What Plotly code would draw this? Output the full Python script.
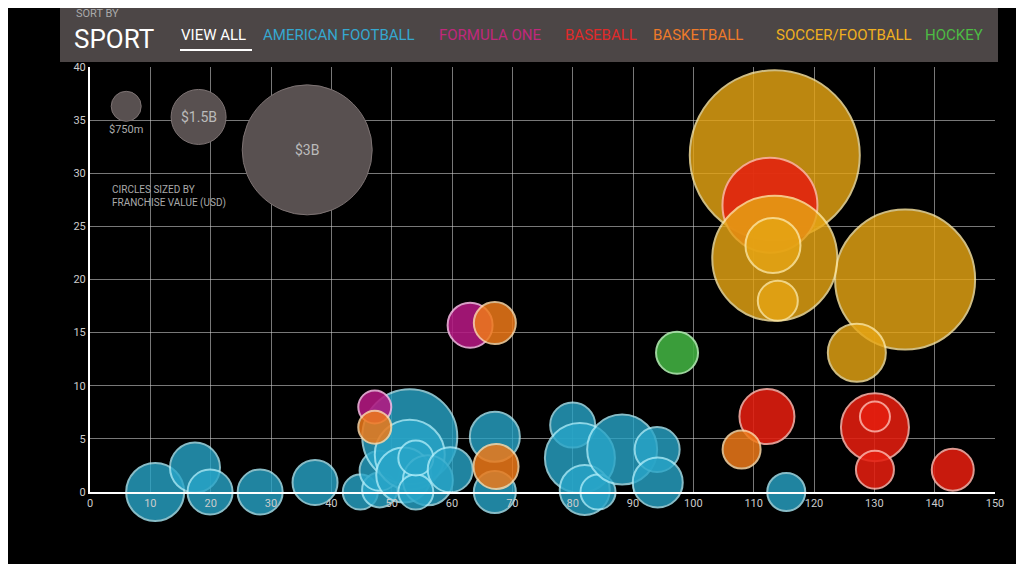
import plotly.graph_objects as go

# data: x, y, marker diameter (px, reflects franchise value)
football_x = [10.8,17.4,19.9,28.2,37.3,44.8,48,48,53,53,52,56,54,54,59.7,67.1,67.1,80,81.2,82,84.2,88.2,94,94.1,115.4]
football_y = [0,2.3,0,0,0.9,0,0.2,2,5.2,3.5,1.6,1.1,0,3.2,2.1,5.2,0,6.3,3.2,0.2,0,4,4,0.9,0]
football_s = [58,50,45,45,45,35,35,40,95,70,55,50,35,35,45,50,42,45,70,50,35,70,45,50,38]

f1_x = [63,47.2]; f1_y = [15.7,8]; f1_s = [45,33]
baseball_x = [112.7,112.2,130.1,130.1,130.1,143,50]
baseball_y = [27,7.1,6.1,7.1,2.1,2.1,2.1]
baseball_s = [95,55,68,30,38,42,25]
basket_x = [67.1,47.2,108,67.3]; basket_y = [15.9,6.1,4,2.4]; basket_s = [42,33,38,45]
soccer_x = [113.5,135.1,127.1,113.5,113.2,114]
soccer_y = [31.7,20,13.1,22,23.2,18]
soccer_s = [170,140,58,125,55,40]
hockey_x = [97.3]; hockey_y = [13.1]; hockey_s = [42]

legend_x = [6,18,36]; legend_y = [36.3,35.3,32.2]; legend_s = [30,55,130]
legend_lbl = ["$750m","$1.5B","$3B"]

FB = ("rgb(40,165,200)", "rgb(170,235,248)")
F1 = ("rgb(180,25,130)", "rgb(245,180,225)")
BK = ("rgb(238,122,25)", "rgb(252,215,165)")
BB = ("rgb(228,30,15)", "rgb(252,175,165)")
SC = ("rgb(230,165,20)", "rgb(252,230,160)")
HK = ("rgb(65,175,65)", "rgb(175,235,175)")

layers = [
    (soccer_x[:3], soccer_y[:3], soccer_s[:3], SC, 0.82),
    (baseball_x[:1], baseball_y[:1], baseball_s[:1], BB, 0.85),
    (soccer_x[3:], soccer_y[3:], soccer_s[3:], SC, 0.82),
    (baseball_x[1:], baseball_y[1:], baseball_s[1:], BB, 0.88),
    (football_x, football_y, football_s, FB, 0.8),
    (f1_x, f1_y, f1_s, F1, 0.88),
    (basket_x, basket_y, basket_s, BK, 0.85),
    (hockey_x, hockey_y, hockey_s, HK, 0.9),
]

fig = go.Figure()
fig.add_trace(go.Scatter(x=legend_x, y=legend_y, mode="markers", cliponaxis=False,
    marker=dict(size=legend_s, color="rgb(88,80,80)", opacity=1, line=dict(color="rgb(125,115,115)", width=1)),
    hoverinfo="skip", showlegend=False))
for xs, ys, ss, (c, lc), op in layers:
    fig.add_trace(go.Scatter(x=xs, y=ys, mode="markers", cliponaxis=False,
        marker=dict(size=ss, color=c, opacity=op, line=dict(color=lc, width=2)), showlegend=False))

OFF = 8  # page body margin
W, H = 1024, 564
L, R, T, B = 90 - OFF, 1024 - 995 + OFF, 67 - OFF, 564 - 492 + OFF
def px(xp): return (xp - OFF - L) / (W - L - R)
def py(yp): return (H - B - (yp - OFF)) / (H - T - B)

font = "Roboto, sans-serif"
ann = []
ann.append(dict(x=legend_x[0], y=legend_y[0]-2.2, text=legend_lbl[0], xref="x", yref="y", showarrow=False, font=dict(size=11, color="#aaa", family=font)))
ann.append(dict(x=legend_x[1], y=legend_y[1], text=legend_lbl[1], xref="x", yref="y", showarrow=False, font=dict(size=14, color="#bbb", family=font)))
ann.append(dict(x=legend_x[2], y=legend_y[2], text=legend_lbl[2], xref="x", yref="y", showarrow=False, font=dict(size=14, color="#bbb", family=font)))
ann.append(dict(x=px(110), y=py(196), text="CIRCLES SIZED BY<br>FRANCHISE VALUE (USD)", xref="paper", yref="paper",
                xanchor="left", yanchor="middle", align="left", showarrow=False, font=dict(size=10, color="#aaa", family=font)))
ann.append(dict(x=px(74), y=py(13), text="SORT BY", xref="paper", yref="paper", xanchor="left", yanchor="middle", showarrow=False, font=dict(size=11, color="#aaa", family=font)))
ann.append(dict(x=px(72), y=py(39), text="SPORT", xref="paper", yref="paper", xanchor="left", yanchor="middle", showarrow=False, font=dict(size=26, color="white", family=font)))
cats = [("VIEW ALL", "white", 179), ("AMERICAN FOOTBALL", "#35a8d0", 261), ("FORMULA ONE", "#c0287c", 437),
        ("BASEBALL", "#e02a2a", 563), ("BASKETBALL", "#ee7a2a", 651), ("SOCCER/FOOTBALL", "#f0b020", 774), ("HOCKEY", "#4cbb44", 923)]
for t, c, xp in cats:
    ann.append(dict(x=px(xp), y=py(35), text=t, xref="paper", yref="paper", xanchor="left", yanchor="middle", showarrow=False, font=dict(size=15, color=c, family=font)))

shapes = [
    dict(type="rect", xref="paper", yref="paper", x0=px(60), x1=px(998), y0=py(62), y1=py(3), fillcolor="rgba(80,74,74,0.95)", line=dict(width=0), layer="below"),
    dict(type="line", xref="paper", yref="paper", x0=px(180), x1=px(252), y0=py(50), y1=py(50), line=dict(color="white", width=2)),
]

fig.update_layout(
    width=W, height=H, margin=dict(l=L, r=R, t=T, b=B),
    paper_bgcolor="black", plot_bgcolor="black",
    annotations=ann, shapes=shapes, showlegend=False,
    xaxis=dict(range=[0, 150], dtick=10, showgrid=True, gridcolor="rgba(200,200,200,0.6)", gridwidth=1,
               zeroline=False, showline=True, linecolor="white", linewidth=2,
               tickfont=dict(color="#ccc", size=11, family=font), ticks=""),
    yaxis=dict(range=[0, 40], dtick=5, showgrid=True, gridcolor="rgba(200,200,200,0.6)", gridwidth=1,
               zeroline=False, showline=True, linecolor="white", linewidth=2,
               tickfont=dict(color="#ccc", size=11, family=font), ticks=""),
)
fig.write_html("out.html")
